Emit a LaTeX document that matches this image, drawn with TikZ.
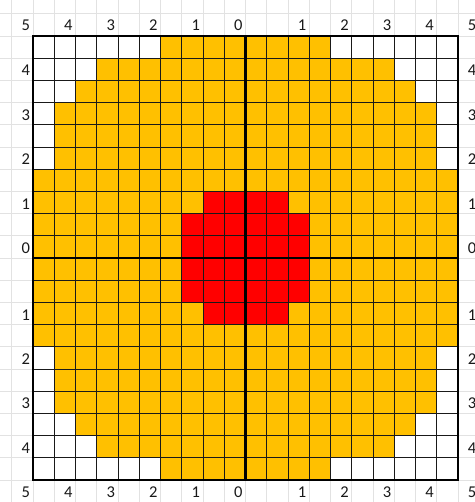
\documentclass[tikz,border=0pt]{standalone}
\usepackage{fontspec}
\setmainfont{Carlito}
\usetikzlibrary{calc}

\definecolor{cellorange}{HTML}{FFC000}
\definecolor{cellred}{HTML}{FF0000}
\definecolor{sheetgrid}{HTML}{E2E2E2}

\begin{document}
\begin{tikzpicture}[x=21.25pt, y=-22.2pt]
    \tikzstyle{faint} = [draw=sheetgrid, line width=0.9pt]
    \tikzstyle{cell} = [draw=black!90, line width=0.9pt]
    \tikzstyle{axis} = [draw=black, line width=2.4pt]
    \tikzstyle{lbl} = [inner sep=0pt, anchor=base east, text=black!90, font=\fontsize{16.5}{19}\selectfont]

    % Sheet background
    \useasboundingbox (-1.553,-1.622) rectangle (20.8,20.991);
    \fill[white] (-1.553,-1.622) rectangle (20.8,20.991);

    % Spreadsheet gridlines
    \foreach \i in {-1,...,21}
        \draw[faint] (\i,-1.622) -- (\i,20.991);
    \foreach \j in {-1,...,21}
        \draw[faint] (-1.553,\j) -- (20.8,\j);

    % Orange disc, row by row (row / empty cells on each side)
    \foreach \j/\w in {0/6,1/3,2/2,3/1,4/1,5/1,6/0,7/0,8/0,9/0,10/0,11/0,12/0,13/0,14/1,15/1,16/1,17/2,18/3,19/6}
        \fill[cellorange] (\w,\j) rectangle ({20-\w},{\j+1});

    % Red core
    \fill[cellred] (8,7) rectangle (12,8);
    \fill[cellred] (7,8) rectangle (13,12);
    \fill[cellred] (8,12) rectangle (12,13);

    % Cell borders
    \foreach \i in {1,...,19}
        \draw[cell] (\i,0) -- (\i,20);
    \foreach \j in {1,...,19}
        \draw[cell] (0,\j) -- (20,\j);

    % Frame and axes
    \draw[axis] (0,0) rectangle (20,20);
    \draw[axis] (10,0) -- (10,20);
    \draw[axis] (0,10) -- (20,10);

    % Labels along top and bottom
    \foreach \k/\t [count=\n] in {0/5,2/4,4/3,6/2,8/1,10/0,13/1,15/2,17/3,19/4,21/5} {
        \node[lbl] (top\n) at ({\k-0.13},-0.24) {\t};
        \node[lbl] (bot\n) at ({\k-0.13},20.78) {\t};
    }

    % Labels along left and right
    \foreach \j/\t [count=\n] in {1/4,3/3,5/2,7/1,9/0,12/1,14/2,16/3,18/4} {
        \node[lbl] (left\n) at (-0.13,{\j+0.8}) {\t};
        \node[lbl] (right\n) at (20.87,{\j+0.8}) {\t};
    }
\end{tikzpicture}
\end{document}
